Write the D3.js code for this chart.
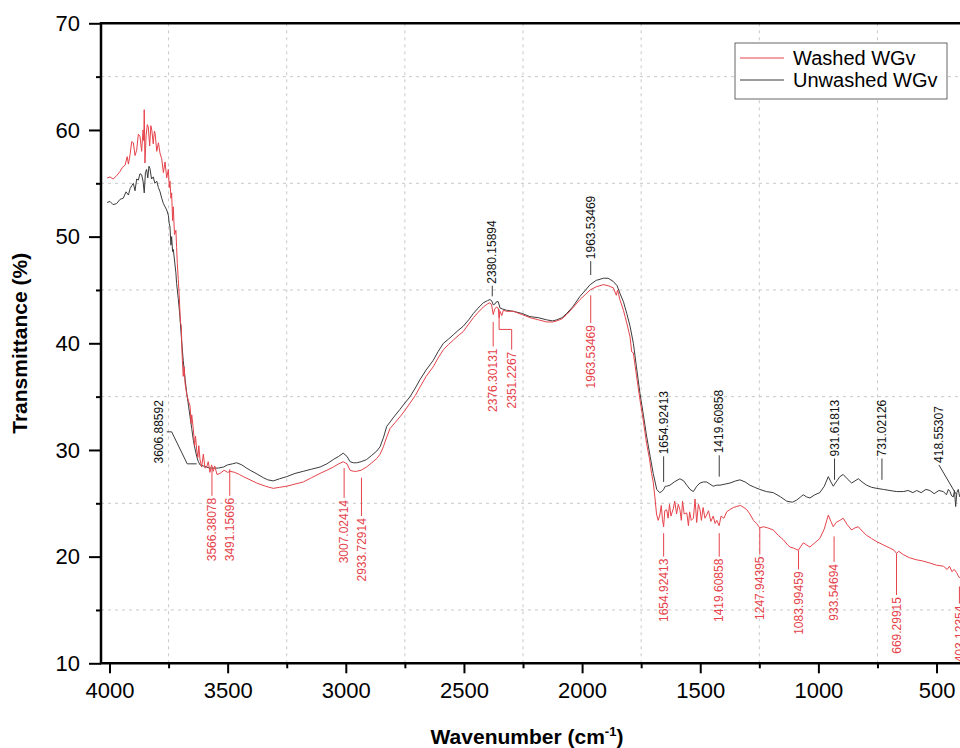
<!DOCTYPE html>
<html>
<head>
<meta charset="utf-8">
<script src="https://cdn.jsdelivr.net/npm/d3@7"></script>
<style>
  body { margin: 0; background: #fff; }
  .chart text { font-family: "Liberation Sans", Arial, sans-serif; }
</style>
</head>
<body>
<svg class="chart"></svg>
<script>
// spectra: [wavenumber, transmittance %]
var unwashed = [
  [4010,53.2],[3998,53.3],[3985,53.0],[3970,53.1],[3955,53.5],[3942,53.6],[3930,54.2],[3920,53.9],[3913,54.5],[3905,54.8],
  [3899,55.0],[3892,54.3],[3885,55.4],[3878,55.3],[3871,55.9],[3864,55.8],[3858,55.2],[3853,54.1],[3848,56.0],[3843,56.3],
  [3838,55.5],[3833,56.6],[3829,56.4],[3822,55.4],[3815,55.6],[3808,55.0],[3800,55.2],[3793,54.6],[3786,54.2],[3779,53.6],
  [3772,53.1],[3765,52.8],[3758,52.5],[3751,52.0],[3747,51.2],[3744,50.9],[3740,49.2],[3737,50.0],[3733,48.6],[3730,48.8],
  [3719,46.6],[3716,45.6],[3709,44.2],[3702,42.5],[3695,40.3],[3688,38.4],[3680,36.6],[3673,35.3],[3666,34.2],[3659,33.1],
  [3652,32.0],[3645,30.9],[3638,30.1],[3631,29.4],[3624,28.9],[3617,28.6],[3603,28.5],[3589,28.4],[3575,28.3],[3561,28.3],
  [3540,28.3],[3518,28.4],[3500,28.6],[3480,28.7],[3462,28.8],[3440,28.6],[3420,28.3],[3405,28.1],[3380,27.8],[3349,27.4],
  [3330,27.2],[3307,27.1],[3280,27.3],[3250,27.5],[3215,27.8],[3180,28.0],[3145,28.2],[3109,28.4],[3080,28.7],[3053,29.1],
  [3030,29.4],[3011,29.7],[2995,29.4],[2982,28.9],[2968,28.8],[2954,28.8],[2935,28.9],[2912,29.1],[2890,29.5],[2869,29.9],
  [2855,30.3],[2840,31.2],[2827,32.2],[2800,33.0],[2771,33.8],[2750,34.4],[2728,35.0],[2706,35.8],[2686,36.6],[2660,37.5],
  [2630,38.4],[2610,39.2],[2587,40.0],[2565,40.4],[2545,40.8],[2525,41.2],[2503,41.6],[2480,42.2],[2460,42.8],[2440,43.3],
  [2418,43.8],[2400,44.0],[2390,44.1],[2383,44.0],[2376,43.6],[2368,43.7],[2362,43.9],[2355,43.9],[2347,43.3],[2335,43.2],
  [2320,43.1],[2291,43.0],[2255,42.8],[2220,42.5],[2185,42.4],[2150,42.2],[2125,42.1],[2107,42.2],[2085,42.4],[2065,42.8],
  [2040,43.4],[2009,44.4],[1985,45.0],[1966,45.5],[1940,45.9],[1910,46.1],[1890,46.1],[1868,45.8],[1852,45.4],[1840,44.7],
  [1825,43.9],[1811,42.8],[1797,41.6],[1783,40.0],[1770,37.8],[1755,35.3],[1740,33.2],[1727,31.3],[1712,29.4],[1699,27.8],
  [1690,26.9],[1684,26.3],[1672,26.0],[1663,26.1],[1655,26.3],[1648,26.6],[1642,26.6],[1628,26.7],[1610,27.0],[1586,27.3],
  [1570,27.1],[1557,26.7],[1543,26.3],[1529,26.1],[1515,26.6],[1501,26.9],[1487,27.0],[1473,27.0],[1459,26.8],[1445,26.6],
  [1430,26.7],[1416,26.7],[1395,26.8],[1374,26.9],[1350,27.1],[1332,27.2],[1310,27.0],[1290,26.7],[1270,26.5],[1248,26.3],
  [1220,26.1],[1191,26.0],[1160,25.6],[1134,25.2],[1110,25.1],[1092,25.3],[1075,25.6],[1064,25.8],[1050,25.6],[1036,25.5],
  [1015,25.8],[994,26.0],[975,26.6],[958,27.5],[947,27.0],[937,26.6],[925,27.0],[909,27.5],[895,27.7],[878,27.3],
  [859,26.9],[845,27.1],[831,27.3],[815,27.0],[796,26.7],[775,26.5],[753,26.4],[725,26.3],[697,26.2],[670,26.1],
  [641,26.1],[620,26.2],[600,26.0],[584,26.2],[565,26.0],[545,26.3],[528,26.2],[510,25.9],[490,26.2],[471,26.1],
  [458,25.8],[450,26.3],[443,26.1],[436,25.7],[429,25.6],[424,26.2],[419,24.7],[414,26.0],[408,26.3],[402,25.6]
];

var washed = [
  [4010,55.5],[3998,55.6],[3985,55.4],[3970,55.7],[3956,56.1],[3945,56.5],[3934,56.7],[3925,57.5],[3920,56.8],[3913,57.7],
  [3906,58.9],[3899,58.8],[3892,57.6],[3885,58.1],[3878,59.6],[3871,59.4],[3864,58.0],[3858,60.0],[3855,59.0],[3853,61.9],
  [3850,56.9],[3845,59.5],[3840,60.5],[3836,60.3],[3830,58.5],[3825,60.4],[3821,60.0],[3815,58.7],[3810,59.9],[3807,59.7],
  [3800,58.0],[3793,58.8],[3786,57.8],[3779,57.3],[3772,56.0],[3765,57.0],[3758,55.5],[3751,56.3],[3747,54.6],[3744,55.2],
  [3740,53.6],[3737,54.1],[3733,51.5],[3730,52.8],[3725,50.2],[3719,50.6],[3716,49.0],[3713,47.5],[3709,46.0],[3705,44.5],
  [3700,42.0],[3696,41.6],[3693,39.0],[3688,36.9],[3684,37.8],[3680,36.2],[3673,35.2],[3666,34.6],[3659,34.1],[3655,32.5],
  [3652,33.3],[3645,31.9],[3640,30.4],[3636,31.3],[3631,30.0],[3626,29.3],[3622,30.4],[3617,29.1],[3610,28.4],[3603,29.6],
  [3596,28.3],[3589,28.4],[3582,28.9],[3575,27.9],[3568,28.6],[3561,28.0],[3555,28.5],[3545,27.7],[3532,27.8],[3515,28.1],
  [3500,27.9],[3490,28.0],[3470,27.9],[3450,27.7],[3434,27.5],[3405,27.2],[3377,26.9],[3340,26.6],[3307,26.4],[3280,26.5],
  [3250,26.6],[3215,26.8],[3180,27.0],[3145,27.4],[3109,27.8],[3080,28.1],[3053,28.4],[3030,28.7],[3011,28.9],[2995,28.7],
  [2982,28.1],[2968,28.0],[2954,28.0],[2935,28.1],[2912,28.4],[2890,28.8],[2869,29.2],[2855,29.6],[2841,30.3],[2827,31.2],
  [2813,32.0],[2790,32.6],[2771,33.1],[2750,33.7],[2728,34.4],[2706,35.1],[2686,35.9],[2660,36.9],[2630,37.8],[2610,38.6],
  [2587,39.4],[2565,39.9],[2545,40.3],[2525,40.7],[2503,41.1],[2480,41.8],[2460,42.4],[2440,42.9],[2418,43.4],[2400,43.7],
  [2390,43.8],[2383,43.6],[2376,42.7],[2370,43.2],[2362,43.4],[2355,43.3],[2351,42.4],[2347,43.0],[2340,42.6],[2333,43.1],
  [2320,43.0],[2291,43.0],[2255,42.7],[2220,42.4],[2185,42.2],[2150,42.0],[2125,42.0],[2107,42.1],[2085,42.3],[2065,42.7],
  [2040,43.3],[2009,44.1],[1985,44.6],[1966,45.0],[1940,45.3],[1910,45.5],[1890,45.4],[1868,45.2],[1855,44.5],[1850,45.0],
  [1840,44.1],[1825,43.1],[1818,42.5],[1811,41.9],[1797,40.6],[1790,39.2],[1783,39.1],[1770,37.0],[1755,34.7],[1740,32.6],
  [1727,30.6],[1715,29.2],[1706,27.8],[1699,27.0],[1692,25.6],[1685,24.0],[1678,23.4],[1671,23.9],[1665,24.8],[1660,23.5],
  [1655,22.8],[1650,24.3],[1642,24.4],[1636,23.6],[1630,24.9],[1624,23.8],[1614,24.5],[1608,25.2],[1600,24.0],[1593,24.9],
  [1586,24.4],[1580,23.4],[1575,25.2],[1568,24.0],[1557,24.1],[1550,22.9],[1545,24.2],[1538,23.4],[1529,23.6],[1522,25.4],
  [1515,23.2],[1508,24.9],[1501,24.4],[1495,23.4],[1488,24.6],[1480,23.6],[1473,23.9],[1465,24.3],[1455,23.3],[1445,23.8],
  [1437,23.1],[1430,23.4],[1420,22.9],[1412,23.8],[1400,23.6],[1388,24.2],[1375,24.4],[1360,24.6],[1346,24.7],[1330,24.8],
  [1315,24.6],[1303,24.4],[1290,24.0],[1275,23.4],[1261,23.1],[1248,22.7],[1233,22.8],[1215,22.7],[1191,22.5],[1170,22.0],
  [1149,21.6],[1130,21.1],[1120,20.9],[1105,20.8],[1085,20.6],[1064,21.3],[1050,21.1],[1036,20.9],[1015,21.3],[994,21.7],
  [975,22.6],[958,23.9],[947,23.3],[937,22.8],[925,23.2],[909,23.4],[895,23.6],[878,23.0],[859,22.5],[845,22.7],
  [831,22.8],[815,22.4],[796,22.0],[775,21.7],[753,21.4],[725,21.1],[697,20.8],[680,20.6],[669,20.3],[660,20.5],
  [641,20.2],[615,19.9],[584,19.7],[560,19.6],[528,19.4],[500,19.2],[471,19.1],[455,18.8],[445,19.1],[435,18.6],
  [425,18.8],[415,18.5],[408,18.2],[402,18.0]
];

// peak labels; leader runs from first value (near the curve) to the second (text end)
var unwashedPeaks = ['3606.88592', '2380.15894', '1963.53469', '1654.92413', '1419.60858', '931.61813', '731.02126', '418.55307'];
var unwashedLeader = [[28.7, 31.7], [44.4, 45.4], [46.4, 47.7], [27.0, 29.4], [27.5, 29.5], [27.2, 29.2], [27.2, 29.2], [25.9, 28.6]];
var washedPeaks = ['3566.38078', '3491.15696', '3007.02414', '2933.72914', '2376.30131', '2351.2267', '1963.53469',
  '1654.92413', '1419.60858', '1247.94395', '1083.99459', '933.54694', '669.29915', '403.12354'];
var washedLeader = [[28.2, 25.7], [28.2, 25.7], [28.3, 25.5], [27.4, 23.8], [42.0, 39.7], [43.2, 39.4], [44.5, 41.9],
  [22.2, 20.0], [22.2, 20.0], [22.7, 20.2], [20.6, 18.8], [21.9, 19.5], [20.3, 16.4], [17.2, 15.6]];

var xMajor = [4000, 3500, 3000, 2500, 2000, 1500, 1000, 500];
var xMinor = [3750, 3250, 2750, 2250, 1750, 1250, 750];
var yMajor = [10, 20, 30, 40, 50, 60, 70];
var yMinor = [15, 25, 35, 45, 55, 65];
var seriesNames = ['Washed WGv', 'Unwashed WGv'];

(function() {
  'use strict';
  var width = 960,
      height = 748;
  var red = '#e5434b',
      dark = '#3b3b3b';

  var x = d3.scaleLinear()
      .domain([4036, 330])
      .range([101, 976.7]);

  var y = d3.scaleLinear()
      .domain([10, 70])
      .range([663.3, 23.3]);

  var svg = d3.select('.chart')
      .attr('width', width)
      .attr('height', height);

  svg.append('defs').append('clipPath')
      .attr('id', 'plot-clip')
    .append('rect')
      .attr('x', x.range()[0])
      .attr('y', y(70))
      .attr('width', x.range()[1] - x.range()[0])
      .attr('height', y(10) - y(70));

  // dashed grid at the minor positions
  svg.append('g').selectAll('line.vg')
      .data(xMinor)
    .enter().append('line')
      .attr('x1', function(d) { return x(d); })
      .attr('x2', function(d) { return x(d); })
      .attr('y1', y(70))
      .attr('y2', y(10))
      .attr('stroke', '#c8c8c8')
      .attr('stroke-dasharray', '3,4');

  svg.append('g').selectAll('line.hg')
      .data(yMinor)
    .enter().append('line')
      .attr('x1', x.range()[0])
      .attr('x2', x.range()[1])
      .attr('y1', function(d) { return y(d); })
      .attr('y2', function(d) { return y(d); })
      .attr('stroke', '#c8c8c8')
      .attr('stroke-dasharray', '3,4');

  var line = d3.line()
      .x(function(d) { return x(d[0]); })
      .y(function(d) { return y(d[1]); });

  var plot = svg.append('g').attr('clip-path', 'url(#plot-clip)');

  plot.append('path')
      .datum(unwashed)
      .attr('fill', 'none')
      .attr('stroke', dark)
      .attr('stroke-width', 1)
      .attr('d', line);

  plot.append('path')
      .datum(washed)
      .attr('fill', 'none')
      .attr('stroke', red)
      .attr('stroke-width', 1)
      .attr('d', line);

  // black peak labels, above the curve
  unwashedPeaks.forEach(function(lab, i) {
    var w = +lab, l = unwashedLeader[i];
    var g = plot.append('g');
    var tx = x(w), ty = y(l[1]) - 2, anchor = 'start';
    if (i === 0) {
      // bent leader off to the left
      g.append('path')
          .attr('d', 'M' + x(3631) + ',' + y(l[0]) + 'H' + x(3671) + 'L' + x(3737) + ',' + y(l[1]) + 'H' + x(3758))
          .attr('fill', 'none').attr('stroke', dark);
      tx = x(3793); ty = y(l[1]); anchor = 'middle';
    } else if (i === unwashedPeaks.length - 1) {
      g.append('line')
          .attr('x1', x(w)).attr('y1', y(l[0]))
          .attr('x2', x(490)).attr('y2', y(l[1]))
          .attr('stroke', dark);
      tx = x(490);
    } else {
      g.append('line')
          .attr('x1', x(w)).attr('x2', x(w))
          .attr('y1', y(l[0])).attr('y2', y(l[1]))
          .attr('stroke', dark);
    }
    g.append('text')
        .attr('transform', 'translate(' + tx + ',' + ty + ') rotate(-90)')
        .attr('dy', '0.35em')
        .attr('text-anchor', anchor)
        .style('font-size', '12px')
        .style('fill', '#111')
        .text(lab);
  });

  // red peak labels, below the curve
  washedPeaks.forEach(function(lab, i) {
    var w = +lab, l = washedLeader[i];
    var g = plot.append('g');
    var tx = x(w);
    if (lab === '2351.2267') {
      g.append('path')
          .attr('d', 'M' + x(w) + ',' + y(l[0]) + 'V' + y(41.3) + 'H' + x(2298) + 'V' + y(l[1]))
          .attr('fill', 'none').attr('stroke', red);
      tx = x(2298);
    } else {
      g.append('line')
          .attr('x1', x(w)).attr('x2', x(w))
          .attr('y1', y(l[0])).attr('y2', y(l[1]))
          .attr('stroke', red);
    }
    g.append('text')
        .attr('transform', 'translate(' + tx + ',' + (y(l[1]) + 2) + ') rotate(-90)')
        .attr('dy', '0.35em')
        .attr('text-anchor', 'end')
        .style('font-size', '12px')
        .style('fill', red)
        .text(lab);
  });

  // axes
  svg.append('g')
      .attr('transform', 'translate(0,' + y(10) + ')')
      .call(d3.axisBottom(x).tickValues(xMajor).tickSize(10).tickPadding(9).tickFormat(d3.format('d')));
  svg.append('g')
      .attr('transform', 'translate(0,' + y(10) + ')')
      .call(d3.axisBottom(x).tickValues(xMinor).tickSize(5).tickFormat(''));

  svg.append('g')
      .attr('transform', 'translate(' + x.range()[0] + ',0)')
      .call(d3.axisLeft(y).tickValues(yMajor).tickSize(12).tickPadding(9));
  svg.append('g')
      .attr('transform', 'translate(' + x.range()[0] + ',0)')
      .call(d3.axisLeft(y).tickValues(yMinor).tickSize(5).tickFormat(''));

  svg.selectAll('.domain').remove();
  svg.selectAll('.tick line').attr('stroke', '#000').attr('stroke-width', 2);
  svg.selectAll('.tick text').style('font-size', '22px').style('fill', '#000');

  // frame lines
  svg.append('path')
      .attr('d', 'M' + x.range()[0] + ',' + y(10) + 'V' + y(70) + 'H' + width)
      .attr('fill', 'none')
      .attr('stroke', '#000')
      .attr('stroke-width', 2.5);
  svg.append('line')
      .attr('x1', x.range()[0] - 1).attr('x2', width)
      .attr('y1', y(10)).attr('y2', y(10))
      .attr('stroke', '#000')
      .attr('stroke-width', 2.5);

  // axis titles
  svg.append('text')
      .attr('transform', 'translate(27,' + y(40) + ') rotate(-90)')
      .attr('text-anchor', 'middle')
      .style('font-size', '21px')
      .style('font-weight', 'bold')
      .text('Transmittance (%)');

  var xt = svg.append('text')
      .attr('x', 527)
      .attr('y', 744)
      .attr('text-anchor', 'middle')
      .style('font-size', '21px')
      .style('font-weight', 'bold');
  xt.append('tspan').text('Wavenumber (cm');
  xt.append('tspan').attr('dy', -8).style('font-size', '13px').text('-1');
  xt.append('tspan').attr('dy', 8).text(')');

  // legend
  var legend = svg.append('g').attr('transform', 'translate(735,43)');
  legend.append('rect')
      .attr('width', 212)
      .attr('height', 56)
      .attr('fill', '#fff')
      .attr('stroke', '#666');
  var item = legend.selectAll('g')
      .data(seriesNames)
    .enter().append('g')
      .attr('transform', function(d, i) { return 'translate(0,' + (15 + i * 22) + ')'; });
  item.append('line')
      .attr('x1', 5).attr('x2', 49)
      .attr('stroke', function(d, i) { return i === 0 ? red : dark; });
  item.append('text')
      .attr('x', 58)
      .attr('dy', '0.35em')
      .style('font-size', '20px')
      .text(function(d) { return d; });
}());
</script>
</body>
</html>
